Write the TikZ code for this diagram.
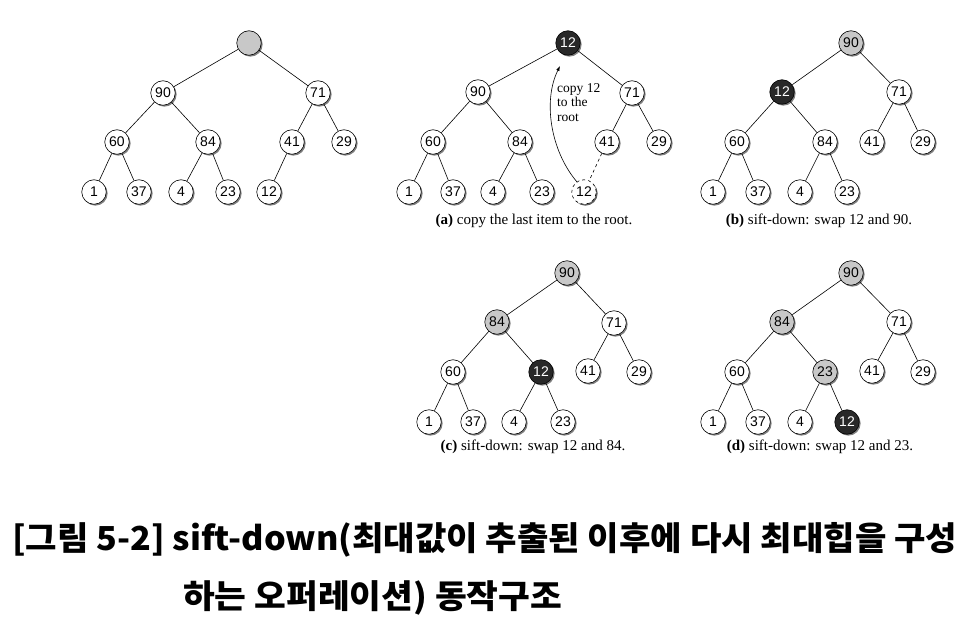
\documentclass[tikz,border=0pt]{standalone}
\usepackage{fontspec}
\setmainfont{Liberation Serif}
\newfontfamily\nodefont{Liberation Sans}
\newfontfamily\krfont{Noto Sans CJK KR}
\usetikzlibrary{shadows,arrows.meta}
\definecolor{hgrey}{RGB}{200,200,200}
\definecolor{hdark}{RGB}{40,40,40}
\tikzset{
  hn/.style={circle, draw=black, line width=0.6pt, fill=white, minimum size=24.5pt, inner sep=0pt,
    font=\nodefont\fontsize{14}{15}\selectfont,
    drop shadow={shadow xshift=1.4pt, shadow yshift=-1.4pt, opacity=0.5, fill=black}},
  gr/.style={hn, fill=hgrey},
  dk/.style={hn, fill=hdark, text=white},
  dsh/.style={hn, dashed, drop shadow={shadow xshift=1.4pt, shadow yshift=-1.4pt, opacity=0.25, fill=black}},
  ed/.style={line width=0.6pt},
  captext/.style={font=\fontsize{15}{17}\selectfont},
  titletext/.style={anchor=west, inner sep=0pt, font=\krfont\bfseries\fontsize{33}{38}\selectfont},
}
\begin{document}
\begin{tikzpicture}[x=1pt,y=-1pt]
\useasboundingbox[fill=white] (0,0) rectangle (965,617);
% ---------- initial tree ----------
\node[gr] (t0) at (249,43) {};
\node[hn] (t1) at (163,93) {90};
\node[hn] (t2) at (318,93) {71};
\node[hn] (t3) at (117,142) {60};
\node[hn] (t4) at (208,142) {84};
\node[hn] (t5) at (292,142) {41};
\node[hn] (t6) at (344,142) {29};
\node[hn] (t7) at (94,192) {1};
\node[hn] (t8) at (139,192) {37};
\node[hn] (t9) at (181,192) {4};
\node[hn] (t10) at (228,192) {23};
\node[hn] (t11) at (269,192) {12};
\draw[ed] (t0)--(t1) (t0)--(t2) (t1)--(t3) (t1)--(t4) (t2)--(t5) (t2)--(t6)
  (t3)--(t7) (t3)--(t8) (t4)--(t9) (t4)--(t10) (t5)--(t11);
% ---------- (a) ----------
\node[dk] (a0) at (568,43) {12};
\node[hn] (a1) at (478,92) {90};
\node[hn] (a2) at (632,93) {71};
\node[hn] (a3) at (433,142) {60};
\node[hn] (a4) at (520,142) {84};
\node[hn] (a5) at (607,142) {41};
\node[hn] (a6) at (659,142) {29};
\node[hn] (a7) at (409,192) {1};
\node[hn] (a8) at (453,192) {37};
\node[hn] (a9) at (493,192) {4};
\node[hn] (a10) at (542,192) {23};
\node[dsh] (a11) at (584,192) {12};
\draw[ed] (a0)--(a1) (a0)--(a2) (a1)--(a3) (a1)--(a4) (a2)--(a5) (a2)--(a6)
  (a3)--(a7) (a3)--(a8) (a4)--(a9) (a4)--(a10);
\draw[ed,dashed] (a5)--(a11);
\coordinate (atip) at (560,66);
\draw[ed,-{Latex[length=5pt,width=3.5pt]}] (a11.125) .. controls (550,150) and (543,100) .. (atip);
\node[anchor=north west, align=left, inner sep=0pt, font=\fontsize{13.5}{14.5}\selectfont] (anote) at (557,83) {copy 12\\to the\\root};
\node[captext] (capa) at (534,221) {\textbf{(a)} copy the last item to the root.};
% ---------- (b) ----------
\node[gr] (b0) at (851,43) {90};
\node[dk] (b1) at (782,92) {12};
\node[hn] (b2) at (899,92) {71};
\node[hn] (b3) at (737,142) {60};
\node[hn] (b4) at (825,142) {84};
\node[hn] (b5) at (872,142) {41};
\node[hn] (b6) at (923,142) {29};
\node[hn] (b7) at (713,192) {1};
\node[hn] (b8) at (758,192) {37};
\node[hn] (b9) at (800,192) {4};
\node[hn] (b10) at (847,192) {23};
\draw[ed] (b0)--(b1) (b0)--(b2) (b1)--(b3) (b1)--(b4) (b2)--(b5) (b2)--(b6)
  (b3)--(b7) (b3)--(b8) (b4)--(b9) (b4)--(b10);
\node[captext] (capb) at (819,221) {\textbf{(b)} sift-down: swap 12 and 90.};
% ---------- (c) ----------
\node[gr] (c0) at (567,273) {90};
\node[gr] (c1) at (497,322) {84};
\node[hn] (c2) at (614,323) {71};
\node[hn] (c3) at (453,372) {60};
\node[dk] (c4) at (541,372) {12};
\node[hn] (c5) at (588,371) {41};
\node[hn] (c6) at (639,372) {29};
\node[hn] (c7) at (429,422) {1};
\node[hn] (c8) at (473,422) {37};
\node[hn] (c9) at (514,422) {4};
\node[hn] (c10) at (563,422) {23};
\draw[ed] (c0)--(c1) (c0)--(c2) (c1)--(c3) (c1)--(c4) (c2)--(c5) (c2)--(c6)
  (c3)--(c7) (c3)--(c8) (c4)--(c9) (c4)--(c10);
\node[captext] (capc) at (533,447) {\textbf{(c)} sift-down: swap 12 and 84.};
% ---------- (d) ----------
\node[gr] (d0) at (851,273) {90};
\node[gr] (d1) at (782,322) {84};
\node[hn] (d2) at (899,322) {71};
\node[hn] (d3) at (737,372) {60};
\node[gr] (d4) at (825,372) {23};
\node[hn] (d5) at (872,371) {41};
\node[hn] (d6) at (923,372) {29};
\node[hn] (d7) at (713,422) {1};
\node[hn] (d8) at (758,422) {37};
\node[hn] (d9) at (800,422) {4};
\node[dk] (d10) at (847,422) {12};
\draw[ed] (d0)--(d1) (d0)--(d2) (d1)--(d3) (d1)--(d4) (d2)--(d5) (d2)--(d6)
  (d3)--(d7) (d3)--(d8) (d4)--(d9) (d4)--(d10);
\node[captext] (capd) at (820,447) {\textbf{(d)} sift-down: swap 12 and 23.};
% ---------- title ----------
\node[titletext] (title1) at (12,540) {\resizebox{945pt}{\height}{[그림 5-2] sift-down(최대값이 추출된 이후에 다시 최대힙을 구성}};
\node[titletext] (title2) at (183,598) {\resizebox{379pt}{\height}{하는 오퍼레이션) 동작구조}};
\end{tikzpicture}
\end{document}
